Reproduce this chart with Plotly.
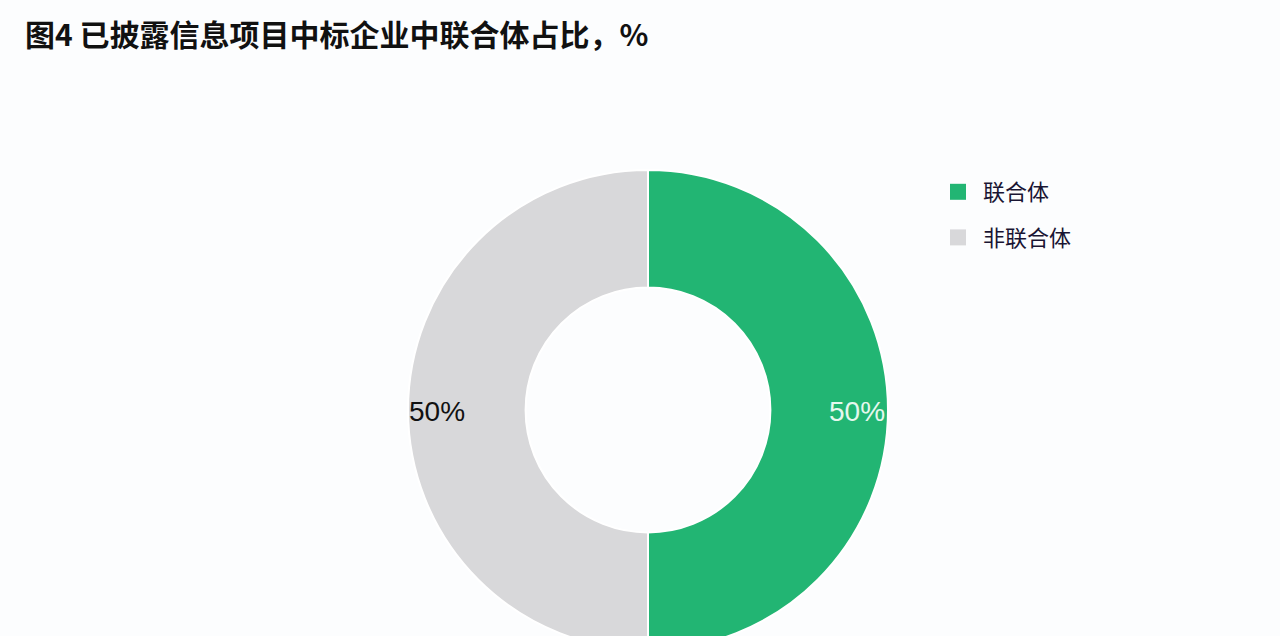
import plotly.graph_objects as go

categories = ["联合体", "非联合体"]
values = [50, 50]
colors = ["#22B573", "#D8D8DA"]
label_colors = ["#E6F8EE", "#111111"]
title_text = "图4 已披露信息项目中标企业中联合体占比，%"

W, H = 1280, 660
total = sum(values)
pct = [f"{v / total * 100:.0f}%" for v in values]

fig = go.Figure()
fig.add_trace(go.Pie(
    labels=categories,
    values=values,
    hole=0.51,
    sort=False,
    direction="clockwise",
    rotation=0,
    marker=dict(colors=colors, line=dict(color="#FFFFFF", width=2)),
    textinfo="none",
    hoverinfo="label+percent",
    showlegend=False,
    domain=dict(x=[408 / W, 888 / W], y=[(H - 650) / H, (H - 170) / H]),
))

# legend entries (one per category)
for i, (cat, col) in enumerate(zip(categories, colors)):
    fig.add_trace(go.Scatter(
        x=[None], y=[None], mode="markers", name=cat,
        legendgroup=f"g{i}",
        marker=dict(symbol="square", size=16, color=col),
        hoverinfo="skip",
    ))

# percentage labels near the outer rim
label_x = [857 / W, 437 / W]
for i, (t, c) in enumerate(zip(pct, label_colors)):
    fig.add_annotation(
        x=label_x[i], y=(H - 411) / H, xref="paper", yref="paper",
        text=t, showarrow=False, xanchor="center",
        font=dict(family="Liberation Sans, Arial", size=28, color=c),
    )

fig.update_layout(
    width=W, height=H,
    margin=dict(l=0, r=0, t=0, b=0),
    paper_bgcolor="#FCFDFE",
    plot_bgcolor="#FCFDFE",
    xaxis=dict(visible=False, fixedrange=True),
    yaxis=dict(visible=False, fixedrange=True),
    title=dict(
        text=title_text,
        x=25 / W, xanchor="left",
        y=(H - 35) / H, yanchor="middle",
        font=dict(family="Noto Sans CJK SC", size=30, color="#111111", weight="bold"),
    ),
    legend=dict(
        x=933 / W, xanchor="left",
        y=(H - 171) / H, yanchor="top",
        font=dict(family="Noto Sans CJK SC", size=22, color="#1A1533"),
        itemwidth=40,
        tracegroupgap=14,
        bgcolor="rgba(0,0,0,0)",
    ),
    showlegend=True,
)

fig.write_html(
    "out.html",
    config={"displayModeBar": False},
    post_script="document.body.style.margin='0';document.body.style.overflow='hidden';",
)
